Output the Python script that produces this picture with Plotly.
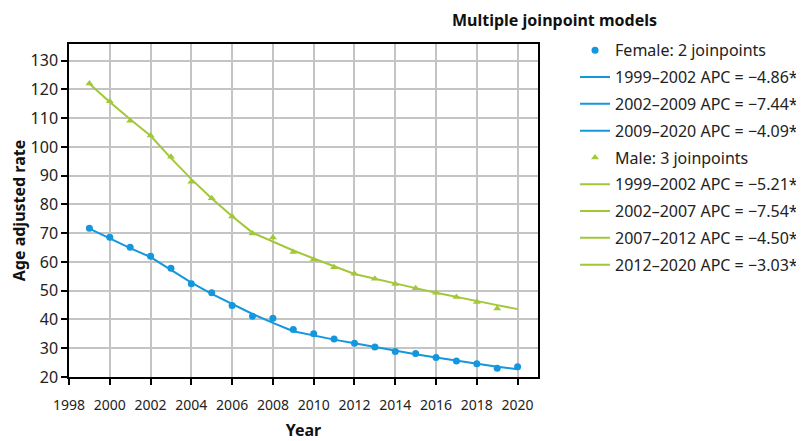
import plotly.graph_objects as go

years = list(range(1999, 2021))

female_obs = [71.7, 68.6, 65.1, 62.0, 57.8, 52.4, 49.3, 44.9, 41.1, 40.4, 36.5,
              35.0, 33.2, 31.7, 30.4, 28.9, 28.2, 26.8, 25.6, 24.6, 23.0, 23.6]
female_fit = [71.6, 68.1, 64.8, 61.7, 57.1, 52.8, 48.9, 45.3, 41.9, 38.8, 35.9,
              34.4, 33.0, 31.7, 30.4, 29.1, 27.9, 26.8, 25.7, 24.6, 23.6, 22.7]
female_segments = [(1999, 2002, "1999–2002 APC = −4.86*"),
                   (2002, 2009, "2002–2009 APC = −7.44*"),
                   (2009, 2020, "2009–2020 APC = −4.09*")]

male_years = list(range(1999, 2020))
male_obs = [122.1, 115.9, 109.1, 104.0, 96.6, 87.9, 82.2, 75.8, 69.9, 68.5, 63.5,
            60.9, 58.2, 55.9, 54.2, 52.3, 50.9, 49.3, 47.8, 46.1, 43.8]
male_fit = [122.0, 115.6, 109.6, 103.9, 96.1, 88.8, 82.1, 75.9, 70.2, 67.0, 64.0,
            61.2, 58.4, 55.8, 54.1, 52.5, 50.9, 49.3, 47.8, 46.4, 45.0, 43.6]
male_segments = [(1999, 2002, "1999–2002 APC = −5.21*"),
                 (2002, 2007, "2002–2007 APC = −7.54*"),
                 (2007, 2012, "2007–2012 APC = −4.50*"),
                 (2012, 2020, "2012–2020 APC = −3.03*")]

x_ticks = list(range(1998, 2021, 2))
y_ticks = list(range(20, 131, 10))

BLUE = "#1497DD"
GREEN = "#A2C83A"
FONT = "Noto Sans"

fig = go.Figure()
gi = 0

def add_group(name, ox, oy, fit, segs, color, symbol, msize):
    global gi
    gi += 1
    fig.add_trace(go.Scatter(x=ox, y=oy, mode="markers", name=name,
                             marker=dict(color=color, symbol=symbol, size=msize),
                             legendgroup=f"g{gi}"))
    for s, e, label in segs:
        gi += 1
        xs = [y for y in years if s <= y <= e]
        ys = [fit[years.index(y)] for y in xs]
        fig.add_trace(go.Scatter(x=xs, y=ys, mode="lines", name=label,
                                 line=dict(color=color, width=2),
                                 legendgroup=f"g{gi}"))

add_group("Female: 2 joinpoints", years, female_obs, female_fit, female_segments,
          BLUE, "circle", 7)
add_group("Male: 3 joinpoints", male_years, male_obs, male_fit, male_segments,
          GREEN, "triangle-up", 7)

axis_common = dict(showline=True, linecolor="black", linewidth=1.5, mirror=True,
                   ticks="outside", ticklen=6, tickcolor="black", tickwidth=1.5,
                   showgrid=True, gridcolor="#C4C4C4", gridwidth=1.5,
                   zeroline=False)

fig.update_layout(
    width=796, height=433,
    margin=dict(l=61, r=266, t=36, b=64, autoexpand=False),
    paper_bgcolor="white", plot_bgcolor="white",
    font=dict(family=FONT, size=14, color="#222"),
    xaxis=dict(range=[1998, 2021], tickvals=x_ticks, ticklabelstandoff=8,
               tickfont=dict(family=FONT, size=14, color="#222"),
               title=dict(text="<b>Year</b>", font=dict(family=FONT, size=16, color="#111"), standoff=15),
               **axis_common),
    yaxis=dict(range=[20, 135.8], tickvals=y_ticks,
               tickfont=dict(family=FONT, size=16, color="#222"),
               title=dict(text="<b>Age adjusted rate</b>", font=dict(family=FONT, size=16, color="#111"), standoff=6),
               **axis_common),
    showlegend=True,
    legend=dict(x=1.079, y=1.032, xanchor="left", yanchor="top",
                traceorder="grouped", tracegroupgap=3, maxheight=400,
                font=dict(family=FONT, size=16, color="#222"),
                bgcolor="rgba(0,0,0,0)"),
    annotations=[dict(text="<b>Multiple joinpoint models</b>", x=0.813, y=1.071,
                      xref="paper", yref="paper", xanchor="left", yanchor="middle",
                      showarrow=False, font=dict(family=FONT, size=16, color="#111"))],
)

fig.write_html("out.html")
